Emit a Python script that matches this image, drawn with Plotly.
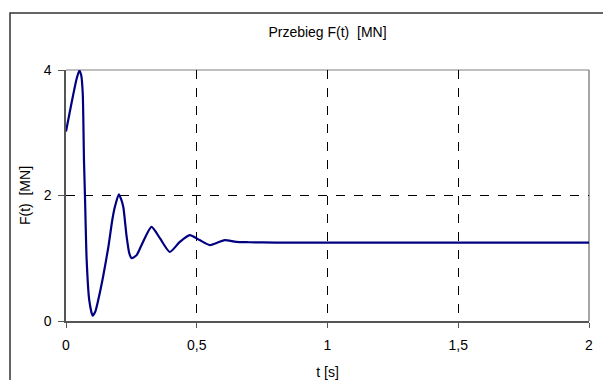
import plotly.graph_objects as go

t_s = [0.0, 0.02, 0.04, 0.051, 0.058, 0.064, 0.0687, 0.0725, 0.079, 0.089, 0.102,
       0.112, 0.123, 0.142, 0.162, 0.177, 0.187, 0.202, 0.210, 0.219, 0.232, 0.242,
       0.251, 0.27, 0.289, 0.327, 0.359, 0.397, 0.435, 0.473, 0.511, 0.550, 0.580,
       0.607, 0.651, 0.70, 0.80, 1.0, 1.5, 2.0]
F_MN = [3.02, 3.45, 3.85, 3.99, 3.92, 3.63, 2.57, 2.0, 0.97, 0.33, 0.085,
        0.15, 0.33, 0.71, 1.18, 1.61, 1.82, 2.02, 1.95, 1.82, 1.34, 1.08,
        1.0, 1.05, 1.21, 1.50, 1.32, 1.10, 1.26, 1.37, 1.29, 1.21, 1.25,
        1.29, 1.26, 1.255, 1.25, 1.25, 1.25, 1.25]

x_ticks = [0, 0.5, 1, 1.5, 2]
x_labels = ["0", "0,5", "1", "1,5", "2"]
y_ticks = [0, 2, 4]
y_labels = ["0", "2", "4"]

fig = go.Figure()
fig.add_trace(go.Scatter(x=t_s, y=F_MN, mode="lines",
                         line=dict(color="#000080", width=2.2, shape="spline", smoothing=0.6),
                         showlegend=False, hoverinfo="skip"))

FONT = "Liberation Sans, Arial, sans-serif"

fig.update_layout(
    width=603, height=380,
    margin=dict(l=66, r=14, t=70, b=59),
    paper_bgcolor="white", plot_bgcolor="white",
    font=dict(family=FONT, size=14, color="black"),
    title=dict(text="Przebieg F(t)  [MN]", x=(66 + 589) / 2 / 603, xanchor="center",
               y=1 - 32 / 380, yanchor="middle", font=dict(family=FONT, size=14, color="black")),
    xaxis=dict(range=[0, 2], tickvals=x_ticks, ticktext=x_labels, automargin=False,
               showline=True, linecolor="#555555", linewidth=1.5,
               ticks="outside", ticklen=5, tickcolor="#555555", ticklabelstandoff=5,
               showgrid=True, gridcolor="black", griddash="dash", gridwidth=1,
               zeroline=False, fixedrange=True,
               title=dict(text="t [s]", font=dict(family=FONT, size=14), standoff=16)),
    yaxis=dict(range=[0, 4], tickvals=y_ticks, ticktext=y_labels, automargin=False,
               showline=True, linecolor="#555555", linewidth=1.5,
               ticks="outside", ticklen=6, tickcolor="#555555", ticklabelstandoff=4,
               showgrid=True, gridcolor="black", griddash="dash", gridwidth=1,
               zeroline=False, fixedrange=True,
               title=dict(text="F(t)  [MN]", font=dict(family=FONT, size=14), standoff=10)),
    shapes=[
        dict(type="line", xref="paper", yref="paper", x0=0, x1=1, y0=1, y1=1,
             line=dict(color="#aaaaaa", width=1.5), layer="below"),
        dict(type="line", xref="paper", yref="paper", x0=1, x1=1, y0=0, y1=1,
             line=dict(color="#888888", width=1.5), layer="below"),
        dict(type="rect", xref="paper", yref="paper",
             x0=(10 - 66) / 523, x1=1.2, y0=-0.4, y1=(321 - 13) / 251,
             line=dict(color="#333333", width=1.5), layer="below"),
    ],
    annotations=[
        dict(text="a)", xref="paper", yref="paper", x=(8 - 66) / 523, y=(321 + 4) / 251,
             xanchor="left", yanchor="bottom", showarrow=False,
             font=dict(family=FONT, size=13, color="black")),
    ],
)

fig.write_html("out.html")
